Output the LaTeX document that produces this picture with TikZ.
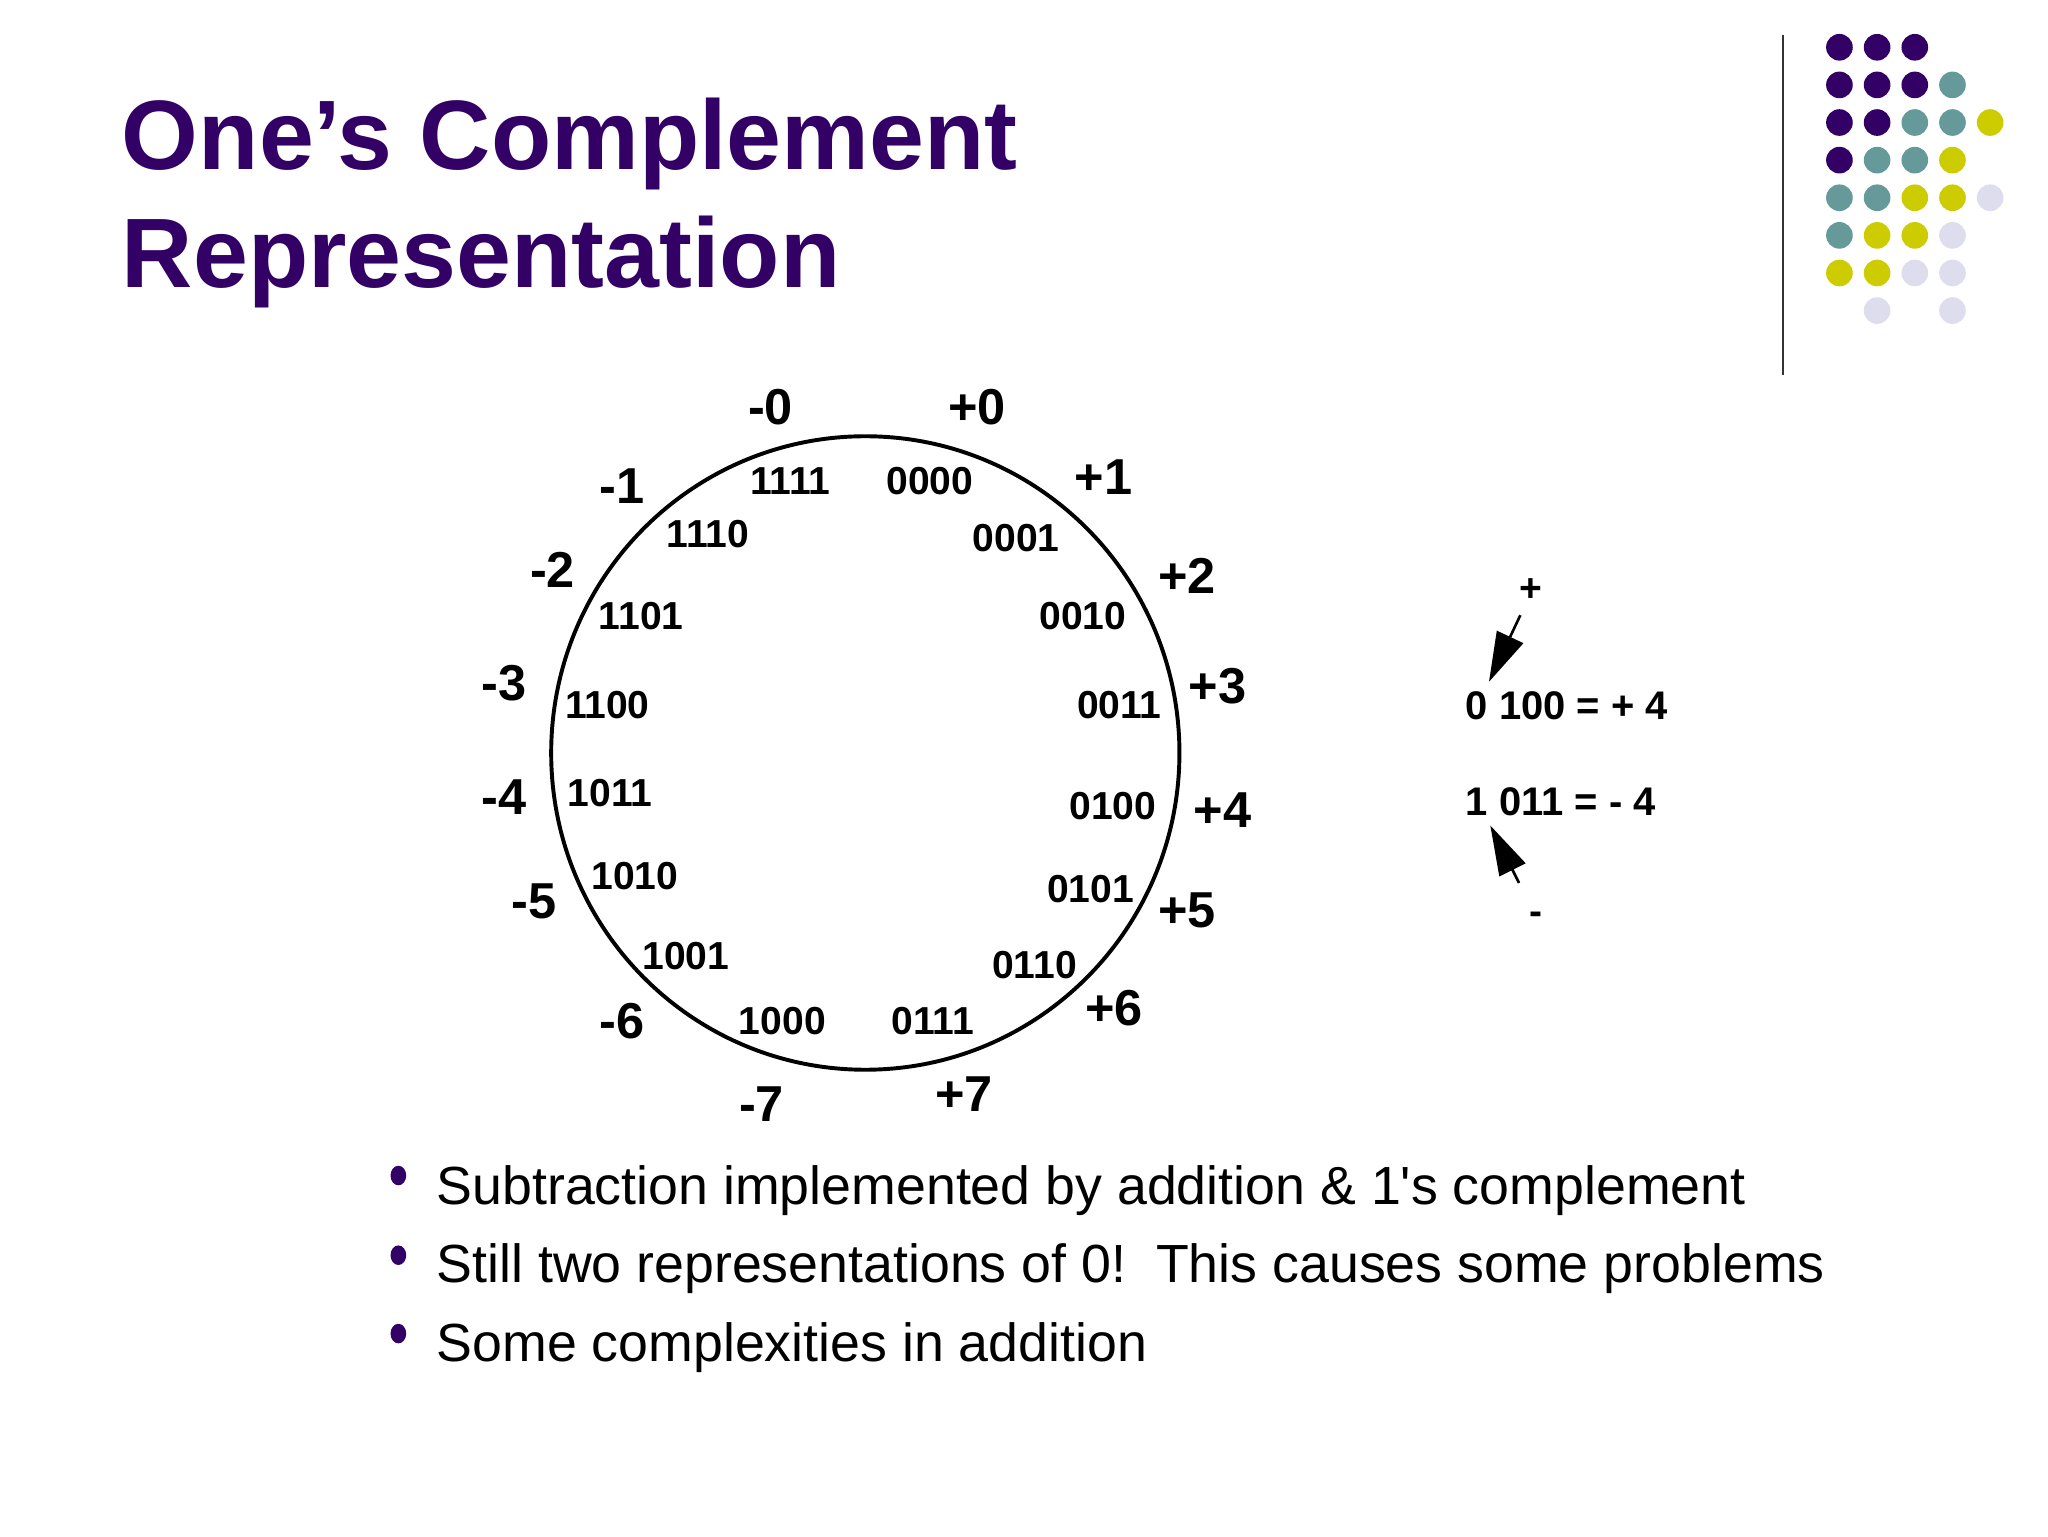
\documentclass[tikz,border=0pt]{standalone}
\usepackage{fontspec}
\setmainfont{Liberation Sans}
\newfontfamily\plainsans{Liberation Sans}[Ligatures=TeXOff]
\usetikzlibrary{arrows.meta}
\definecolor{dpurple}{HTML}{330066}
\definecolor{dteal}{HTML}{669999}
\definecolor{dyellow}{HTML}{CCCC00}
\definecolor{dlav}{HTML}{DDDDEE}
\tikzset{
  titletext/.style={anchor=base west,inner sep=0pt,text=dpurple,font=\fontsize{43}{50}\selectfont\bfseries},
  ringlab/.style={inner sep=0pt,font=\fontsize{22}{26}\selectfont\bfseries},
  binlab/.style={inner sep=0pt,font=\fontsize{17}{20}\selectfont\bfseries},
  eqlab/.style={anchor=west,inner sep=0pt,font=\fontsize{17.4}{20}\selectfont\bfseries},
  bullettext/.style={anchor=base west,inner sep=0pt,font=\plainsans\fontsize{23.4}{28}\selectfont},
  bulletdot/.style={fill=dpurple},
  bigarrow/.style={line width=0.4mm,-{Triangle[length=7.6mm,width=4.4mm]}},
}
\begin{document}
\begin{tikzpicture}[x=0.2mm,y=-0.2mm]
\useasboundingbox (0,0) rectangle (1568,1176);
\fill[white] (0,0) rectangle (1568,1176);
% title
\node[titletext] (t1) at (93,130) {One’s Complement};
\node[titletext] (t2) at (93,220) {Representation};
% separator line
\draw[line width=0.4mm,draw=black!80] (1365,27) -- (1365,287);
% decorative dots
\foreach \c/\i/\j in {
  dpurple/0/0,dpurple/1/0,dpurple/2/0,
  dpurple/0/1,dpurple/1/1,dpurple/2/1,dteal/3/1,
  dpurple/0/2,dpurple/1/2,dteal/2/2,dteal/3/2,dyellow/4/2,
  dpurple/0/3,dteal/1/3,dteal/2/3,dyellow/3/3,
  dteal/0/4,dteal/1/4,dyellow/2/4,dyellow/3/4,dlav/4/4,
  dteal/0/5,dyellow/1/5,dyellow/2/5,dlav/3/5,
  dyellow/0/6,dyellow/1/6,dlav/2/6,dlav/3/6,
  dlav/1/7,dlav/3/7}
  \fill[\c] ({1408.3+28.85*\i},{36.2+28.8*\j}) circle[radius=2.04mm];
% wheel
\draw[line width=0.6mm] (662.5,576.5) ellipse[x radius=48.1mm,y radius=48.5mm];
% outer labels
\node[ringlab] (m0) at (590,312) {-0};
\node[ringlab] (p0) at (748,312) {+0};
\node[ringlab] (p1) at (845,365) {+1};
\node[ringlab] (p2) at (909,441) {+2};
\node[ringlab] (p3) at (932,525) {+3};
\node[ringlab] (p4) at (936,620) {+4};
\node[ringlab] (p5) at (909,697) {+5};
\node[ringlab] (p6) at (853,772) {+6};
\node[ringlab] (p7) at (738,838) {+7};
\node[ringlab] (m7) at (583,845) {-7};
\node[ringlab] (m6) at (476,782) {-6};
\node[ringlab] (m5) at (409,690) {-5};
\node[ringlab] (m4) at (386,610) {-4};
\node[ringlab] (m3) at (386,523) {-3};
\node[ringlab] (m2) at (423,436) {-2};
\node[ringlab] (m1) at (476,372) {-1};
% inner labels
\node[binlab] (b15) at (605,368) {1111};
\node[binlab] (b0) at (712,368) {0000};
\node[binlab] (b1) at (778,412) {0001};
\node[binlab] (b2) at (829,472) {0010};
\node[binlab] (b3) at (857,540) {0011};
\node[binlab] (b4) at (852,617) {0100};
\node[binlab] (b5) at (835,681) {0101};
\node[binlab] (b6) at (792,739) {0110};
\node[binlab] (b7) at (714,782) {0111};
\node[binlab] (b8) at (599,782) {1000};
\node[binlab] (b9) at (525,732) {1001};
\node[binlab] (b10) at (486,671) {1010};
\node[binlab] (b11) at (467,607) {1011};
\node[binlab] (b12) at (465,540) {1100};
\node[binlab] (b13) at (491,472) {1101};
\node[binlab] (b14) at (542,409) {1110};
% sign examples
\node[eqlab] (eqp) at (1122,540) {0 100 = + 4};
\node[eqlab] (eqm) at (1122,614) {1 011 = - 4};
\node[binlab] (plus) at (1172,452) {+};
\node[binlab] (minus) at (1176,703) {-};
\coordinate (ptail) at (1164,471);
\coordinate (ptip) at (1140,522);
\coordinate (mtail) at (1163,676);
\coordinate (mtip) at (1141,632);
\draw[bigarrow] (ptail) -- (ptip);
\draw[bigarrow] (mtail) -- (mtip);
% bullets
\fill[bulletdot] (305,900) ellipse[x radius=1.2mm,y radius=1.5mm];
\fill[bulletdot] (305,961) ellipse[x radius=1.2mm,y radius=1.5mm];
\fill[bulletdot] (305,1021) ellipse[x radius=1.2mm,y radius=1.5mm];
\node[bullettext] (l1) at (334,922) {Subtraction implemented by addition \& 1's complement};
\node[bullettext] (l2) at (334,982) {Still two representations of 0!\ \ This causes some problems};
\node[bullettext] (l3) at (334,1042) {Some complexities in addition};
\end{tikzpicture}
\end{document}
